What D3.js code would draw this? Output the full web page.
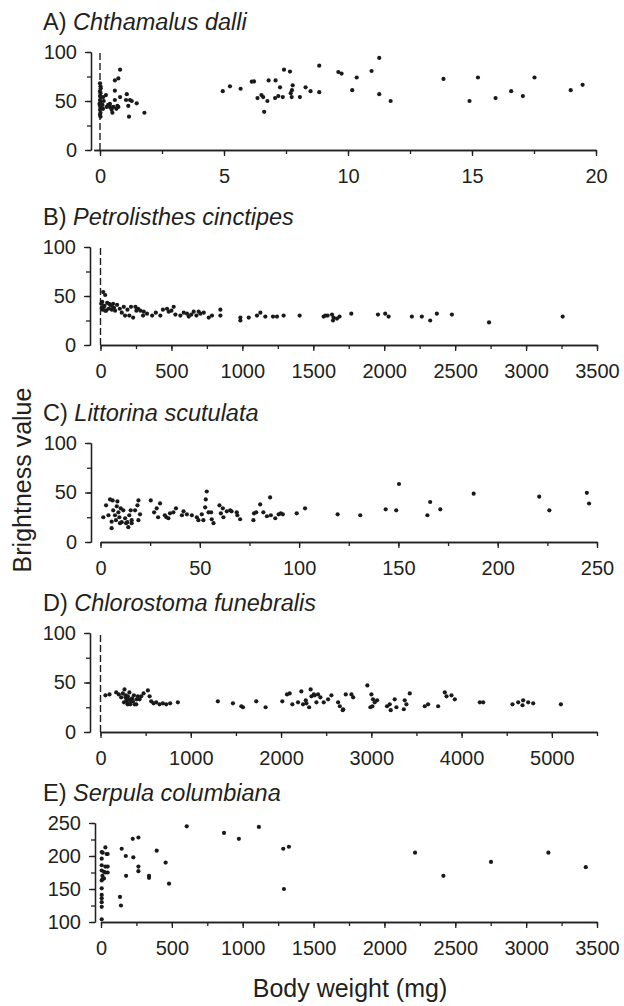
<!DOCTYPE html>
<html>
<head>
<meta charset="utf-8">
<script src="https://cdn.jsdelivr.net/npm/d3@7"></script>
<style>
  body { margin: 0; background: #fff; }
  svg text { font-family: "Liberation Sans", Arial, Helvetica, sans-serif; fill: #231f20; }
</style>
</head>
<body>
<div id="chart"></div>
<script>
// body weight (mg), brightness value
const chthamalus = [
  [0,68],[0.02,65],[0.03,63],[0,60],[0.02,58],[0,55],[0.03,54],[0,51],[0.02,49],[-0.02,47],
  [0,45],[0.03,43],[0,41],[0.02,38],[0,36],[0.02,34],[0.13,54],[0.15,50],[0.1,46],[0.12,42],
  [0.24,56],[0.27,44],[0.4,47],[0.47,41],[0.6,51],[0.6,71],[0.6,60.5],[0.74,73],[0.81,82],[0.81,54],
  [0.74,44],[0.54,44],[0.4,44],[0.33,46],[0.66,42],[0.7,45],[0.5,38],[0.45,43],
  [1.08,57],[1.05,51],[1.21,51],[1.28,50],[1.14,45],[1.17,34],[1.48,47.6],[1.79,38],
  [4.95,60],[5.24,65],[5.67,62.5],[6.12,69.7],[6.21,70],[6.35,53],[6.51,56],[6.58,54],[6.62,39],[6.75,50],
  [6.8,71],[7.08,71],[7.06,53],[7.19,55],[7.26,64],[7.37,54],[7.42,82],[7.66,80],[7.69,58],[7.74,61],
  [7.77,66],[7.73,54],[8.06,54],[8.29,64],[8.49,60],[8.84,86],[8.84,59],[9.61,79.6],[9.74,78],[10.17,61],
  [10.35,74],[10.95,80.6],[11.26,94],[11.26,57],[11.72,50],[13.85,72.5],[14.9,50],[15.24,74],[15.95,53],
  [16.58,60],[17.05,55],[17.52,74],[18.98,61],[19.46,66.5]
];

const petrolisthes = [
  [19,54],[33,51],[12,44],[47,43],[70,41],[23,39],[56,37],[33,35],[80,36],[103,35],
  [75,40],[89,42],[117,41],[136,37],[164,39],[173,30],[203,30],[215,39],[230,28],[246,39],
  [253,35],[281,35],[305,34],[328,32],[364,30],[422,30],[469,37],[481,34],[516,39],[528,31],
  [563,30],[587,33],[610,32],[622,29],[657,34],[676,30],[692,34],[704,32],[728,33],[763,28],
  [786,30],[845,36],[845,30],[986,28],[986,25],[1045,28],[1103,30],[1127,33],[1162,29],[1216,29],
  [1244,29],[1291,30],[1404,30],[1573,29],[1585,30],[1601,30],[1632,31],[1639,25],[1643,28],[1667,27],
  [1685,29],[1768,32],[1956,31],[2007,32],[2031,29],[2195,29],[2265,29],[2324,25],[2371,32],[2477,31],
  [2739,23],[3258,29],
  [5,42],[8,38],[15,36],[28,40],[40,35],[60,42],[95,38],[150,33],[190,36],[265,37],
  [300,30],[390,33],[440,36],[500,35],[640,31]
];

const littorina = [
  [1.4,25],[2.8,37],[4,27],[4.8,43],[5.6,20.5],[6.1,42],[6.4,32],[7.3,27],[7.8,22],[8.2,36],
  [8.5,41],[9,30],[9.5,25],[9.8,19],[10.2,34],[10.7,20],[11.5,32],[12.4,24],[12.9,19],[13.5,20],
  [14,15],[14.5,27],[15.2,32],[15.7,22],[15.7,19],[17.4,32],[18.6,37],[19.1,42],[19.9,28],[19.1,22],
  [5.6,14],[25.3,42],[27,30],[28.3,34],[30,39],[29,25],[32.4,27],[33.2,25],[34.2,24],[35,29],
  [36.7,30],[38,34],[41,27],[41.8,31],[43.5,28],[46,27],[48.5,25],[49.3,22],[51,28],[51.8,22],
  [52.7,35],[53.5,51],[53,43],[54.4,30],[55.7,30],[56,23],[56.9,19],[59.9,37],[60.6,29],[61.6,34],
  [61.9,25],[63.6,31],[65.3,32],[66,31],[68.6,30],[68.9,27],[70.3,23],[77,22],[77.3,29],[78.4,30],
  [80.4,38],[82,30],[83.8,26],[85.4,45],[85.8,27],[88,24],[89.7,28],[90.8,29],[91.8,28],[98.8,29],
  [103,34],[119.4,28],[130.8,27],[143.6,33],[150.3,58.6],[148.9,32],[164.6,27],[166,40.4],[171.1,33],
  [187.9,48.8],[220.9,45.8],[226,32],[244.9,49.7],[246,38.9]
];

const chlorostoma = [
  [55,37],[100,38],[174,40],[203,38],[229,35],[248,39],[266,43],[277,35],[285,31],[303,36],
  [314,33],[329,28],[340,31],[359,31],[377,28],[396,28],[414,36],[433,33],[451,36],[477,39],
  [525,42],[544,36],[562,31],[588,29],[617,30],[654,28],[691,29],[728,28],[772,29],[857,30],
  [260,30],[280,37],[300,28],[320,40],[350,34],[370,37],[290,33],[310,29],[400,33],
  [1300,31],[1467,29],[1560,26],[1578,25],[1726,31],[1829,25],[2014,31],[2066,38],[2096,39],[2125,28],
  [2188,30],[2225,41],[2244,28],[2274,32],[2311,25],[2337,36],[2363,38],[2392,30],[2281,29],[2328,43],
  [2373,37],[2410,38],[2436,35],[2473,30],[2521,33],[2558,37],[2632,30],[2651,26],[2688,23],[2717,38],
  [2780,38],[2799,35],[2956,47],[3001,38],[3019,33],[3038,30],[3012,26],[3064,32],[2990,25],[3174,26],
  [3204,28],[3259,33],[3278,25],[3370,32],[3389,28],[3426,39],[3592,26],[3629,28],[3740,26],[3814,40],
  [3833,36],[3888,37],[3925,33],[4202,30],[4239,30],[4564,28],[4627,30],[4682,32],[4738,30],[4793,29],
  [4675,27],[5100,28],[2683,22],[3215,22],[3360,23]
];

const serpula = [
  [5,206],[12,205],[31,213],[40,203],[47,203],[5,186],[31,184],[47,184],[5,178],[21,176],
  [31,175],[47,175],[5,163],[12,165],[21,166],[5,151],[5,141],[5,136],[5,123],[5,104],
  [5,196],[10,170],[5,130],
  [134,138],[141,125],[146,211],[175,200],[177,170],[224,226],[228,198],[264,228],[264,184],[264,177],
  [339,170],[339,167],[393,208],[456,190],[480,158],[605,245],[868,235],[973,226],[1114,244],[1286,211],
  [1326,214],[1291,150],[2216,205],[2416,170],[2752,191],[3157,205],[3421,183]
];

const titleLetters = ["A)", "B)", "C)", "D)", "E)"];
const speciesNames = ["Chthamalus dalli", "Petrolisthes cinctipes", "Littorina scutulata",
  "Chlorostoma funebralis", "Serpula columbiana"];
const xTickSets = [
  [0, 5, 10, 15, 20],
  [0, 500, 1000, 1500, 2000, 2500, 3000, 3500],
  [0, 50, 100, 150, 200, 250],
  [0, 1000, 2000, 3000, 4000, 5000],
  [0, 500, 1000, 1500, 2000, 2500, 3000, 3500]
];
const yTickSets = [[0, 50, 100], [0, 50, 100], [0, 50, 100], [0, 50, 100], [100, 150, 200, 250]];

const width = 624, height = 1006;
const svg = d3.select("#chart").append("svg")
  .attr("width", width).attr("height", height);

const ink = "#231f20";

// layout for each panel (pixel positions)
const panels = [
  { data: chthamalus,   xDom: [-0.25, 20], xMinor: 2.5, yDom: [0, 100], yMinor: 25, x0: 93.8, x1: 596, top: 52,  h: 98, axisX: 91, dashed: true },
  { data: petrolisthes, xDom: [0, 3500],   xMinor: 250, yDom: [0, 100], yMinor: 25, x0: 100.5, x1: 597, top: 247, h: 98, axisX: 90, dashed: true },
  { data: littorina,    xDom: [0, 250],    xMinor: 25,  yDom: [0, 100], yMinor: 25, x0: 100.5, x1: 597, top: 443, h: 99, axisX: 91, dashed: false },
  { data: chlorostoma,  xDom: [0, 5500],   xMinor: 500, yDom: [0, 100], yMinor: 25, x0: 100.5, x1: 597, top: 633, h: 99, axisX: 90, dashed: true },
  { data: serpula,      xDom: [0, 3500],   xMinor: 250, yDom: [100, 250], yMinor: 25, x0: 101, x1: 597, top: 823, h: 99, axisX: 95, dashed: false }
];

panels.forEach((p, i) => {
  const g = svg.append("g");
  const x = d3.scaleLinear().domain(p.xDom).range([p.x0, p.x1]);
  const y = d3.scaleLinear().domain(p.yDom).range([p.top + p.h, p.top]);
  const yBase = y(p.yDom[0]);

  // title
  const t = g.append("text")
    .attr("x", 43)
    .attr("y", p.top - 22)
    .style("font-size", "23.5px");
  t.append("tspan").text(titleLetters[i] + " ");
  t.append("tspan").style("font-style", "italic").text(speciesNames[i]);

  // minor ticks
  const xMinorVals = d3.range(Math.max(0, p.xDom[0]), p.xDom[1] + 1e-9, p.xMinor);
  const yMinorVals = d3.range(p.yDom[0], p.yDom[1] + 1e-9, p.yMinor);

  g.append("g")
    .attr("transform", `translate(0,${yBase})`)
    .call(d3.axisBottom(x).tickValues(xMinorVals).tickSize(4).tickSizeOuter(0).tickFormat(""));
  g.append("g")
    .attr("transform", `translate(${p.axisX},0)`)
    .call(d3.axisLeft(y).tickValues(yMinorVals).tickSize(4).tickSizeOuter(0).tickFormat(""));

  // major ticks + labels
  const xAxis = g.append("g")
    .attr("transform", `translate(0,${yBase})`)
    .call(d3.axisBottom(x).tickValues(xTickSets[i]).tickSize(6).tickSizeOuter(0).tickPadding(13).tickFormat(d3.format("d")));
  const yAxis = g.append("g")
    .attr("transform", `translate(${p.axisX},0)`)
    .call(d3.axisLeft(y).tickValues(yTickSets[i]).tickSize(6).tickSizeOuter(0).tickPadding(8).tickFormat(d3.format("d")));

  g.selectAll(".domain, .tick line")
    .attr("stroke", ink)
    .attr("stroke-width", 1.3);
  [xAxis, yAxis].forEach(a => a.selectAll("text")
    .style("font-size", "20px")
    .attr("fill", ink)
    .style("font-family", "'Liberation Sans', Arial, sans-serif"));

  // dashed reference line at zero weight
  if (p.dashed) {
    g.append("line")
      .attr("x1", x(0)).attr("x2", x(0))
      .attr("y1", y(p.yDom[0])).attr("y2", y(p.yDom[1]))
      .attr("stroke", ink)
      .attr("stroke-width", 1.4)
      .attr("stroke-dasharray", "7,3");
  }

  // points
  g.selectAll("circle")
    .data(p.data)
    .enter()
    .append("circle")
    .attr("cx", d => x(d[0]))
    .attr("cy", d => y(d[1]))
    .attr("r", 2.1)
    .attr("fill", "#1a1a1a");
});

// shared axis titles
svg.append("text")
  .attr("transform", "translate(31,480) rotate(-90)")
  .attr("text-anchor", "middle")
  .style("font-size", "25px")
  .text("Brightness value");

svg.append("text")
  .attr("x", 350)
  .attr("y", 997)
  .attr("text-anchor", "middle")
  .style("font-size", "25px")
  .text("Body weight (mg)");
</script>
</body>
</html>
